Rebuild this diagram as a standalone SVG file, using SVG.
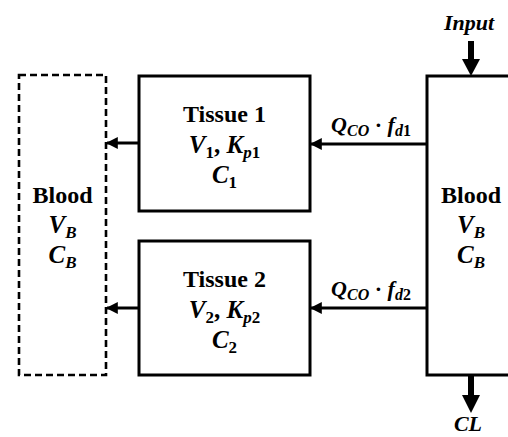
<svg xmlns="http://www.w3.org/2000/svg" width="508" height="437" viewBox="0 0 508 437">
<defs>
<style>
.box{fill:none;stroke:#000;stroke-width:3}
.dash{fill:none;stroke:#000;stroke-width:2.6;stroke-dasharray:7 4}
.conn{stroke:#000;stroke-width:3;fill:none}
.thick{stroke:#000;stroke-width:6;fill:none}
text{font-family:"Liberation Serif","Times New Roman",serif;font-weight:bold;fill:#000}
.t{font-size:24px}
.m{font-size:25px;font-style:italic}
.up{font-style:normal}
.sub{font-size:17px}
.lbl{font-size:22px;font-style:italic}
.lbl .sub{font-size:16px}
</style>
<marker id="ah" viewBox="0 0 10 10" refX="9" refY="5" markerWidth="4" markerHeight="4" orient="auto" markerUnits="strokeWidth">
<path d="M0,0 L10,5 L0,10 z" fill="#000"/>
</marker>
</defs>
<rect width="508" height="437" fill="#fff"/>
<g id="blood-left">
<rect class="dash" x="19" y="75" width="87" height="300"/>
<text class="t" x="62.5" y="203" text-anchor="middle">Blood</text>
<text class="m" x="62.5" y="233" text-anchor="middle">V<tspan class="sub" dy="5">B</tspan></text>
<text class="m" x="62.5" y="263" text-anchor="middle">C<tspan class="sub" dy="5">B</tspan></text>
</g>
<g id="tissue1">
<rect class="box" x="139" y="76" width="171" height="135"/>
<text class="t" x="224.5" y="122" text-anchor="middle">Tissue 1</text>
<text class="m" x="224.5" y="153" text-anchor="middle">V<tspan class="sub up" dy="5">1</tspan><tspan class="up" dy="-5">, </tspan>K<tspan class="sub" dy="5">p</tspan><tspan class="sub up">1</tspan></text>
<text class="m" x="224.5" y="183" text-anchor="middle">C<tspan class="sub up" dy="5">1</tspan></text>
</g>
<g id="tissue2">
<rect class="box" x="139" y="241" width="171" height="134"/>
<text class="t" x="224.5" y="287" text-anchor="middle">Tissue 2</text>
<text class="m" x="224.5" y="318" text-anchor="middle">V<tspan class="sub up" dy="5">2</tspan><tspan class="up" dy="-5">, </tspan>K<tspan class="sub" dy="5">p</tspan><tspan class="sub up">2</tspan></text>
<text class="m" x="224.5" y="348" text-anchor="middle">C<tspan class="sub up" dy="5">2</tspan></text>
</g>
<g id="blood-right">
<rect class="box" x="427" y="76" width="90" height="299"/>
<text class="t" x="471" y="203" text-anchor="middle">Blood</text>
<text class="m" x="471" y="233" text-anchor="middle">V<tspan class="sub" dy="5">B</tspan></text>
<text class="m" x="471" y="263" text-anchor="middle">C<tspan class="sub" dy="5">B</tspan></text>
</g>
<g id="connectors">
<line class="conn" x1="139" y1="143" x2="107" y2="143" marker-end="url(#ah)"/>
<line class="conn" x1="139" y1="308" x2="107" y2="308" marker-end="url(#ah)"/>
<line class="conn" x1="427" y1="144" x2="311" y2="144" marker-end="url(#ah)"/>
<line class="conn" x1="427" y1="308" x2="311" y2="308" marker-end="url(#ah)"/>
<text class="lbl" x="371" y="132" text-anchor="middle">Q<tspan class="sub" dy="4">CO</tspan><tspan class="up" dy="-4"> · </tspan>f<tspan class="sub" dy="4">d</tspan><tspan class="sub up">1</tspan></text>
<text class="lbl" x="371" y="296" text-anchor="middle">Q<tspan class="sub" dy="4">CO</tspan><tspan class="up" dy="-4"> · </tspan>f<tspan class="sub" dy="4">d</tspan><tspan class="sub up">2</tspan></text>
<line class="thick" x1="471" y1="41" x2="471" y2="60"/>
<path d="M462,59 L480,59 L471,76 z" fill="#000"/>
<line class="thick" x1="471" y1="376" x2="471" y2="396"/>
<path d="M462,395 L480,395 L471,413 z" fill="#000"/>
<text class="lbl" x="469" y="30" text-anchor="middle">Input</text>
<text class="lbl" x="468" y="431" text-anchor="middle">CL</text>
</g>
</svg>
